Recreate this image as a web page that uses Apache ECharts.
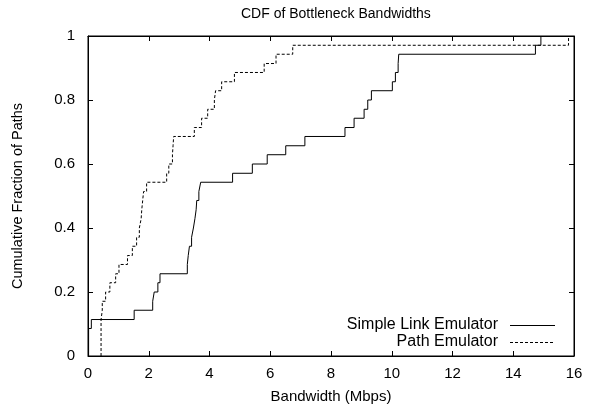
<!DOCTYPE html>
<html>
<head>
<meta charset="utf-8">
<script src="https://cdn.jsdelivr.net/npm/echarts@6/dist/echarts.min.js"></script>
<style>html,body{margin:0;padding:0;background:#fff;}#c{width:595px;height:409px;}</style>
</head>
<body>
<div id="c"></div>
<script>
// Simple Link Emulator: bandwidth (Mbps) at each CDF step, and the cumulative fraction reached there
var simpleX = [0.02, 0.02, 0.02, 0.02, 0.11, 1.52, 2.13, 2.18, 2.30, 2.37, 3.27, 3.30, 3.34, 3.41, 3.47, 3.52, 3.56, 3.58, 3.65, 3.71,
               4.76, 5.41, 5.90, 6.51, 7.14, 8.46, 8.76, 9.09, 9.21, 9.33, 10.02, 10.12, 10.21, 10.23, 14.73, 14.91];
var simpleY = [0, 0.029, 0.057, 0.086, 0.114, 0.143, 0.171, 0.200, 0.229, 0.257, 0.286, 0.314, 0.343, 0.371, 0.400, 0.429, 0.457, 0.486, 0.514, 0.543,
               0.571, 0.600, 0.629, 0.657, 0.686, 0.714, 0.743, 0.771, 0.800, 0.829, 0.857, 0.886, 0.914, 0.943, 0.971, 1.000];
// Path Emulator
var pathX = [0.43, 0.43, 0.43, 0.43, 0.43, 0.47, 0.47, 0.58, 0.72, 0.91, 1.02, 1.30, 1.46, 1.60, 1.69, 1.75, 1.77, 1.80, 1.83, 1.93,
             2.59, 2.66, 2.78, 2.80, 2.82, 3.50, 3.74, 3.94, 4.16, 4.20, 4.40, 4.82, 5.80, 6.19, 6.74, 15.82];
var pathY = [0, 0.029, 0.057, 0.086, 0.114, 0.143, 0.171, 0.200, 0.229, 0.257, 0.286, 0.314, 0.343, 0.371, 0.400, 0.429, 0.457, 0.486, 0.514, 0.543,
             0.571, 0.600, 0.629, 0.657, 0.686, 0.714, 0.743, 0.771, 0.800, 0.829, 0.857, 0.886, 0.914, 0.943, 0.971, 1.000];

var seriesNames = ['Simple Link Emulator', 'Path Emulator'];
var xTicks = [0, 2, 4, 6, 8, 10, 12, 14, 16];
var yTicks = [0, 0.2, 0.4, 0.6, 0.8, 1];

function pairs(xs, ys) { return xs.map(function (x, i) { return [x, ys[i]]; }); }

var FONT = 'Liberation Sans, Arial, Helvetica, sans-serif';
var chart = echarts.init(document.getElementById('c'), null, { renderer: 'canvas' });

var axisLine = { show: true, onZero: false, lineStyle: { color: '#000', width: 1 } };
var tick = { show: true, inside: true, length: 5, lineStyle: { color: '#000', width: 1 } };

function legendItem(i, y, dash) {
  return [{
    type: 'text', x: 498, y: y, z: 10,
    style: { text: seriesNames[i], align: 'right', verticalAlign: 'middle', font: '16px ' + FONT, fill: '#000' }
  }, {
    type: 'line', z: 10,
    shape: { x1: 510, y1: y + 0.5, x2: 555, y2: y + 0.5 },
    style: { stroke: '#000', lineWidth: 1, lineDash: dash }
  }];
}

chart.setOption({
  animation: false,
  backgroundColor: '#fff',
  title: {
    text: 'CDF of Bottleneck Bandwidths',
    left: 236, top: 2,
    textStyle: { fontFamily: FONT, fontSize: 14, fontWeight: 'normal', color: '#000' }
  },
  graphic: legendItem(0, 325, null).concat(legendItem(1, 342, [3, 2])),
  grid: { left: 88, right: 21, top: 36, bottom: 53, show: true, borderColor: '#000', borderWidth: 1, backgroundColor: 'transparent' },
  xAxis: [{
    type: 'value', min: xTicks[0], max: xTicks[xTicks.length - 1], interval: 2,
    name: 'Bandwidth (Mbps)', nameLocation: 'middle', nameGap: 33,
    nameTextStyle: { fontFamily: FONT, fontSize: 15, color: '#000' },
    axisLine: axisLine, axisTick: tick, splitLine: { show: false },
    axisLabel: { fontFamily: FONT, fontSize: 15, color: '#000', margin: 10 }
  }, {
    type: 'value', position: 'top', min: xTicks[0], max: xTicks[xTicks.length - 1], interval: 2,
    axisLine: axisLine, axisTick: tick, splitLine: { show: false }, axisLabel: { show: false }
  }],
  yAxis: [{
    type: 'value', min: yTicks[0], max: yTicks[yTicks.length - 1], interval: 0.2,
    name: 'Cumulative Fraction of Paths', nameLocation: 'middle', nameGap: 63, nameRotate: 90,
    nameTextStyle: { fontFamily: FONT, fontSize: 14.5, color: '#000' },
    axisLine: axisLine, axisTick: tick, splitLine: { show: false },
    axisLabel: { fontFamily: FONT, fontSize: 15, color: '#000', margin: 13 }
  }, {
    type: 'value', position: 'right', min: yTicks[0], max: yTicks[yTicks.length - 1], interval: 0.2,
    axisLine: axisLine, axisTick: tick, splitLine: { show: false }, axisLabel: { show: false }
  }],
  series: [{
    name: seriesNames[0], type: 'line', step: 'end',
    symbol: 'none', showSymbol: false,
    xAxisIndex: 0, yAxisIndex: 0,
    lineStyle: { color: '#000', width: 1, type: 'solid' },
    itemStyle: { color: '#000' },
    data: pairs(simpleX, simpleY), z: 3
  }, {
    name: seriesNames[1], type: 'line', step: 'end',
    symbol: 'none', showSymbol: false,
    xAxisIndex: 1, yAxisIndex: 1,
    lineStyle: { color: '#000', width: 1, type: [3, 2] },
    itemStyle: { color: '#000' },
    data: pairs(pathX, pathY), z: 2
  }]
});
</script>
</body>
</html>
